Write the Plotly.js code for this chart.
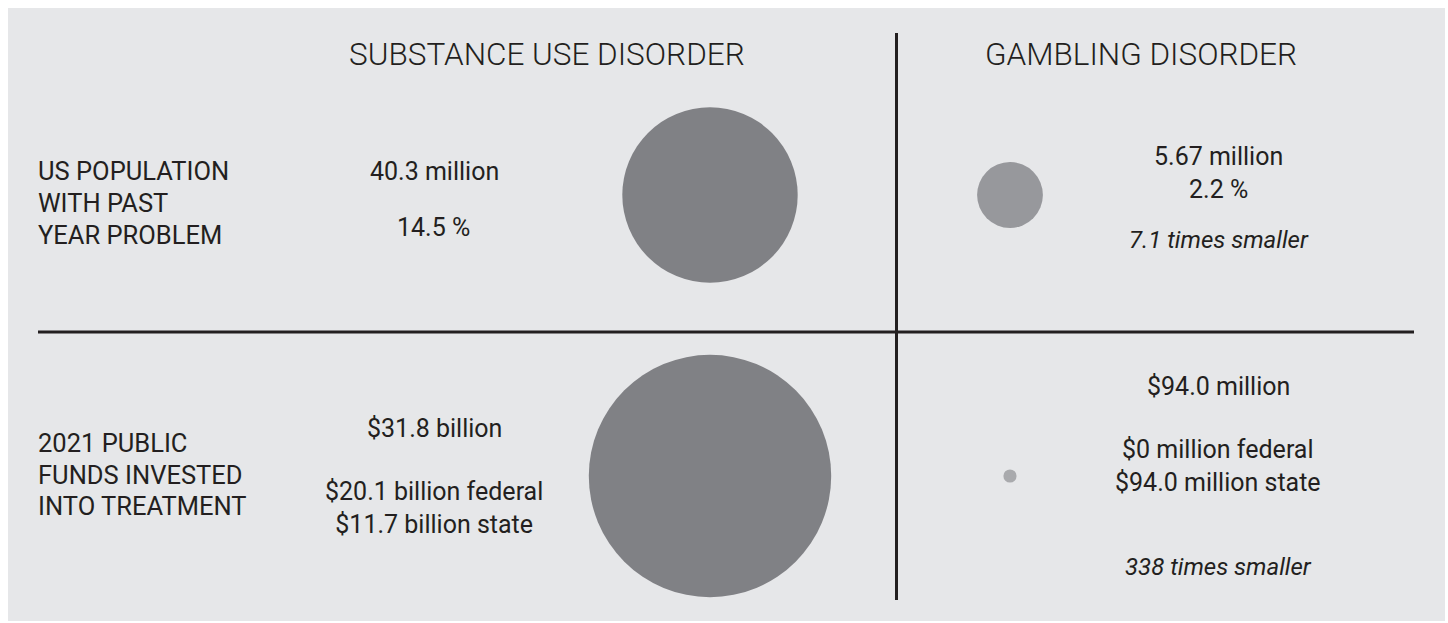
<!DOCTYPE html>
<html>
<head>
<meta charset="utf-8">
<script src="https://cdn.plot.ly/plotly-3.0.1.min.js"></script>
<style>
  html, body { margin: 0; padding: 0; background: #ffffff; }
  #chart { width: 1448px; height: 623px; }
</style>
</head>
<body>
<div id="chart"></div>
<script>
// ---- data ----
const columns = ["SUBSTANCE USE DISORDER", "GAMBLING DISORDER"];
const rowLabels = ["US POPULATION<br>WITH PAST<br>YEAR PROBLEM", "2021 PUBLIC<br>FUNDS INVESTED<br>INTO TREATMENT"];
const populationMillions = [40.3, 5.67];
const populationPct = [14.5, 2.2];
const fundsMillions = [31800, 94.0];
const federalMillions = [20100, 0];
const stateMillions = [11700, 94.0];
const timesSmaller = [7.1, 338];

// ---- helpers ----
const W = 1448, H = 623;
const px = v => v / W;
const py = v => 1 - v / H;
const TEXT = '#231f20';
const FONT = 'Roboto, "Open Sans", sans-serif';

function money(m) {
  if (m >= 1000) return '$' + (m / 1000).toFixed(1) + ' billion';
  if (m === 0) return '$0 million';
  return '$' + m.toFixed(1) + ' million';
}

const popMaxDiameter = 175.4;
const fundsMaxDiameter = 242.4;

const traces = [
  {
    type: 'scatter', mode: 'markers', hoverinfo: 'skip',
    x: columns, y: [rowLabels[0], rowLabels[0]],
    marker: {
      size: populationMillions, sizemode: 'area',
      sizeref: 2 * Math.max(...populationMillions) / (popMaxDiameter * popMaxDiameter),
      color: ['#808185', '#97989c'], opacity: 1, line: { width: 0 }
    }
  },
  {
    type: 'scatter', mode: 'markers', hoverinfo: 'skip',
    x: columns, y: [rowLabels[1], rowLabels[1]],
    marker: {
      size: fundsMillions, sizemode: 'area',
      sizeref: 2 * Math.max(...fundsMillions) / (fundsMaxDiameter * fundsMaxDiameter),
      color: ['#808185', '#a9aaad'], opacity: 1, line: { width: 0 }
    }
  }
];

function ann(text, x, y, opts) {
  return Object.assign({
    text: text, xref: 'paper', yref: 'paper', x: px(x), y: py(y),
    xanchor: 'center', yanchor: 'middle', showarrow: false, align: 'center',
    font: { family: FONT, size: 25, color: TEXT }
  }, opts || {});
}

const annotations = [
  ann(columns[0], 546.5, 54, { font: { family: FONT, size: 31.5, color: TEXT, weight: 300 } }),
  ann(columns[1], 1141, 54, { font: { family: FONT, size: 31.5, color: TEXT, weight: 300 } }),
  ann(populationMillions[0] + ' million', 434, 171.7),
  ann(populationPct[0] + ' %', 433, 227),
  ann(money(fundsMillions[0]), 434, 428),
  ann(money(federalMillions[0]) + ' federal<br>' + money(stateMillions[0]) + ' state', 434, 507.5),
  ann(populationMillions[1] + ' million<br>' + populationPct[1] + ' %', 1218, 172.5),
  ann('<i>' + timesSmaller[0] + ' times smaller</i>', 1219, 240, { font: { family: FONT, size: 24, color: TEXT } }),
  ann(money(fundsMillions[1]), 1218, 386),
  ann(money(federalMillions[1]) + ' federal<br>' + money(stateMillions[1]) + ' state', 1218, 466),
  ann('<i>' + timesSmaller[1] + ' times smaller</i>', 1218, 566.7, { font: { family: FONT, size: 24, color: TEXT } })
];

// row labels, one annotation per line for tighter line spacing
const rowLineY = [[171, 203, 235], [443, 474.5, 506]];
rowLabels.forEach((lab, r) => {
  lab.split('<br>').forEach((line, i) => {
    annotations.push(ann(line, 36, rowLineY[r][i], {
      xanchor: 'left', align: 'left', font: { family: FONT, size: 25.5, color: TEXT }
    }));
  });
});

const shapes = [
  { type: 'rect', xref: 'paper', yref: 'paper', x0: px(8), x1: px(1445), y0: py(621), y1: py(8),
    fillcolor: '#e6e7e9', line: { width: 0 }, layer: 'below' },
  { type: 'line', xref: 'paper', yref: 'paper', x0: px(38), x1: px(1414), y0: py(332), y1: py(332),
    line: { color: TEXT, width: 3 } },
  { type: 'line', xref: 'paper', yref: 'paper', x0: px(896.5), x1: px(896.5), y0: py(33), y1: py(600),
    line: { color: TEXT, width: 3 } }
];

// column 0 -> 710px, column 1 -> 1010px ; row 0 -> 195px, row 1 -> 476px
const layout = {
  width: W, height: H,
  margin: { l: 0, r: 0, t: 0, b: 0, pad: 0 },
  paper_bgcolor: '#ffffff',
  plot_bgcolor: 'rgba(0,0,0,0)',
  showlegend: false,
  xaxis: { type: 'category', categoryarray: columns, categoryorder: 'array',
           range: [-710 / 300, (W - 710) / 300], visible: false, fixedrange: true },
  yaxis: { type: 'category', categoryarray: rowLabels, categoryorder: 'array',
           range: [(H - 195) / 281, -195 / 281], visible: false, fixedrange: true },
  annotations: annotations,
  shapes: shapes,
  hovermode: false
};

Plotly.newPlot('chart', traces, layout, { displayModeBar: false, staticPlot: true });
</script>
</body>
</html>
